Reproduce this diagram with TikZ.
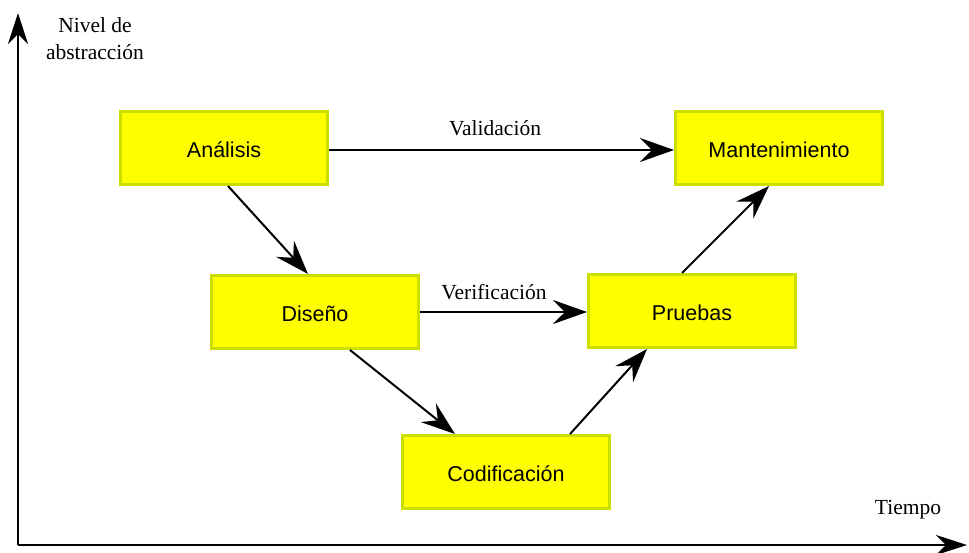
\documentclass[tikz,border=0pt]{standalone}
\usepackage{fontspec}
\setmainfont{Liberation Serif}
\newfontfamily\boxfont{Liberation Sans}
\usetikzlibrary{arrows.meta}
\definecolor{phasefill}{RGB}{255,255,0}
\definecolor{phaseedge}{RGB}{204,221,0}
\tikzset{
  phase/.style={draw=phaseedge, line width=3pt, fill=phasefill,
    minimum width=207pt, minimum height=73pt, inner sep=0pt,
    text height=18pt, text depth=0pt,
    font=\boxfont\fontsize{21.5}{25}\selectfont},
  flow/.style={line width=2pt, -{Stealth[length=34pt, width=24pt, inset=12pt]}},
  axis/.style={line width=2.5pt, -{Stealth[length=31pt, width=20pt, inset=10pt]}},
  caption/.style={font=\fontsize{21.5}{27}\selectfont, inner sep=0pt, align=center}
}
\begin{document}
\begin{tikzpicture}[x=1pt, y=-1pt]
  \useasboundingbox (0,0) rectangle (969,552);

  % axes
  \coordinate (origin) at (18,545);
  \coordinate (ytop) at (18,13);
  \coordinate (xend) at (967,545);
  \draw[axis] (origin) -- (ytop);
  \draw[axis] (origin) -- (xend);
  \node[caption] (ylab) at (95,39) {Nivel de\\abstracción};
  \node[caption] (xlab) at (908,510) {Tiempo};

  % phases
  \node[phase] (an) at (224,148) {Análisis};
  \node[phase] (ma) at (779,148) {Mantenimiento};
  \node[phase] (di) at (315,312) {Diseño};
  \node[phase] (pr) at (692,311) {Pruebas};
  \node[phase] (co) at (506,472) {Codificación};

  % connectors
  \draw[flow] ([yshift=-2pt]an.east) -- ([yshift=-2pt]ma.west);
  \draw[flow] ([xshift=4pt]an.south) -- ([xshift=-7pt]di.north);
  \draw[flow] (di.east) -- (di.east -| pr.west);
  \draw[flow] ([xshift=35pt]di.south) -- ([xshift=-51pt]co.north);
  \draw[flow] ([xshift=64pt]co.north) -- ([xshift=-45pt]pr.south);
  \draw[flow] ([xshift=-10pt]pr.north) -- ([xshift=-10pt]ma.south);

  \node[caption] (val) at (495,128) {Validación};
  \node[caption] (ver) at (494,292) {Verificación};
\end{tikzpicture}
\end{document}
